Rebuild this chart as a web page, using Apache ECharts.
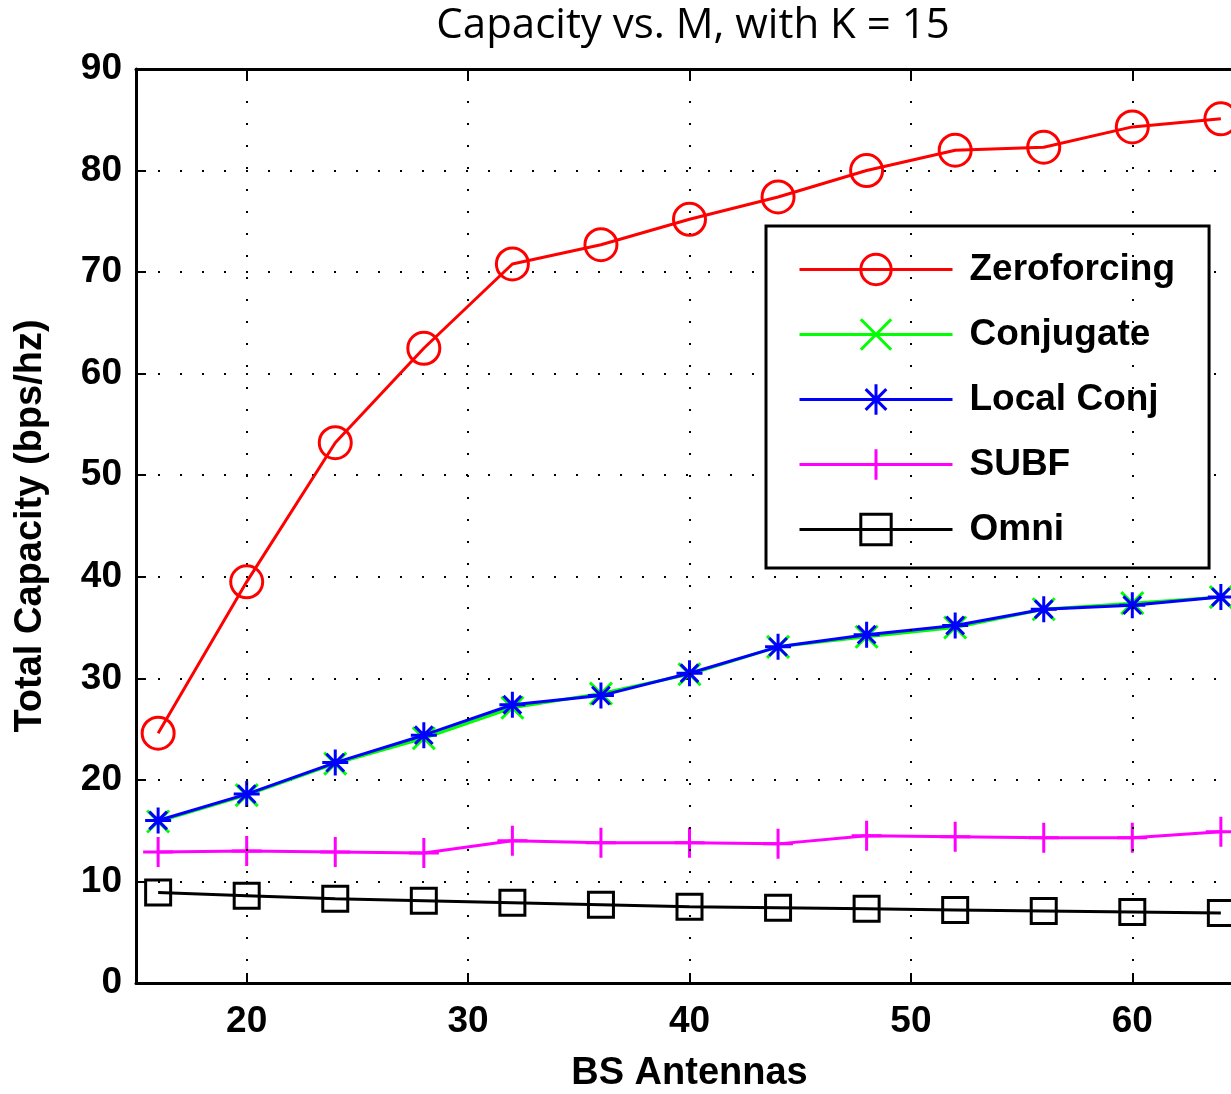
<!DOCTYPE html>
<html>
<head>
<meta charset="utf-8">
<script src="https://cdn.jsdelivr.net/npm/echarts@6/dist/echarts.min.js"></script>
<style>
html,body{margin:0;padding:0;background:#fff;}
#chart{width:1231px;height:1094px;}
</style>
</head>
<body>
<div id="chart"></div>
<script>
const antennas = [16, 20, 24, 28, 32, 36, 40, 44, 48, 52, 56, 60, 64];
const zeroforcing = [24.6, 39.5, 53.2, 62.5, 70.8, 72.7, 75.2, 77.4, 80.0, 82.0, 82.3, 84.3, 85.1];
const conjugate   = [15.9, 18.5, 21.6, 24.1, 27.1, 28.5, 30.4, 33.1, 34.1, 35.0, 36.8, 37.4, 38.0];
const localConj   = [16.0, 18.6, 21.7, 24.4, 27.4, 28.3, 30.5, 33.1, 34.3, 35.2, 36.8, 37.2, 38.0];
const subf        = [12.9, 13.0, 12.9, 12.8, 14.0, 13.8, 13.8, 13.7, 14.5, 14.4, 14.3, 14.3, 14.9];
const omni        = [8.9, 8.6, 8.3, 8.1, 7.9, 7.7, 7.5, 7.4, 7.3, 7.2, 7.1, 7.0, 6.9];
const xTicks = [20, 30, 40, 50, 60];
const yTicks = [0, 10, 20, 30, 40, 50, 60, 70, 80, 90];

const pair = arr => arr.map((v, i) => [antennas[i], v]);
const FONT = '"Liberation Sans", Arial, sans-serif';

const X_PATH = 'path://M0,0L10,10M10,0L0,10';
const STAR_PATH = 'path://M5,0L5,10M0,5L10,5M1.6,1.6L8.4,8.4M8.4,1.6L1.6,8.4';
const PLUS_PATH = 'path://M5,0L5,10M0,5L10,5';

function mk(name, data, color, symbol, size, z) {
  return {
    name, type: 'line', data: pair(data), z,
    symbol, symbolSize: size,
    lineStyle: { color, width: 3 },
    itemStyle: { color: 'rgba(0,0,0,0)', borderColor: color, borderWidth: 3 },
    emphasis: { disabled: true },
    animation: false
  };
}

const series = [
  mk('Zeroforcing', zeroforcing, '#ff0000', 'circle', 32, 5),
  mk('Conjugate', conjugate, '#00ff00', X_PATH, 22, 3),
  mk('Local Conj', localConj, '#0000ff', STAR_PATH, 26, 4),
  mk('SUBF', subf, '#ff00ff', PLUS_PATH, 30, 3),
  mk('Omni', omni, '#000000', 'rect', 25, 3)
];
series[4].markLine = {
  silent: true, symbol: 'none', label: { show: false },
  lineStyle: { color: '#000', type: [2, 20], width: 2 },
  data: xTicks.map(v => ({ xAxis: v })),
  animation: false
};

const chart = echarts.init(document.getElementById('chart'));
chart.setOption({
  backgroundColor: '#fff',
  animation: false,
  title: {
    text: 'Capacity vs. M, with K = 15',
    left: 688, top: 0, textAlign: 'center',
    textStyle: { fontFamily: '"Open Sans", sans-serif', fontSize: 42, fontWeight: 'normal', color: '#000' }
  },
  grid: { left: 136, top: 69, width: 1107, height: 914, containLabel: false, outerBoundsMode: 'none' },
  legend: {
    left: 766, top: 226, orient: 'vertical',
    data: ['Zeroforcing', 'Conjugate', 'Local Conj', 'SUBF', 'Omni'],
    itemWidth: 153, itemHeight: 38, itemGap: 28,
    padding: [25, 34, 20, 32],
    backgroundColor: '#fff', borderColor: '#000', borderWidth: 3,
    lineStyle: { width: 3 },
    itemStyle: { borderWidth: 3 },
    textStyle: { fontFamily: FONT, fontSize: 37, fontWeight: 'bold', color: '#000', padding: [0, 0, 0, 12] },
    selectedMode: false
  },
  xAxis: [{
    type: 'value', min: 15, max: 65, interval: 5,
    name: 'BS Antennas', nameLocation: 'middle', nameGap: 72,
    nameTextStyle: { fontFamily: FONT, fontSize: 38, fontWeight: 'bold', color: '#000' },
    axisLine: { show: true, onZero: false, lineStyle: { color: '#000', width: 3 } },
    axisTick: { show: true, inside: true, length: 10, lineStyle: { color: '#000', width: 2 }, customValues: xTicks },
    axisLabel: { fontFamily: FONT, fontSize: 37, fontWeight: 'bold', color: '#000', margin: 20, customValues: xTicks },
    splitLine: { show: false }
  }, {
    type: 'value', min: 15, max: 65, interval: 5, position: 'top',
    axisLine: { show: true, onZero: false, lineStyle: { color: '#000', width: 3 } },
    axisTick: { show: true, inside: true, length: 10, lineStyle: { color: '#000', width: 2 }, customValues: xTicks },
    axisLabel: { show: false },
    splitLine: { show: false }
  }],
  yAxis: {
    type: 'value', min: 0, max: 90, interval: 10,
    name: 'Total Capacity (bps/hz)', nameLocation: 'middle', nameGap: 86,
    nameTextStyle: { fontFamily: FONT, fontSize: 38, fontWeight: 'bold', color: '#000' },
    axisLine: { show: true, lineStyle: { color: '#000', width: 3 } },
    axisTick: { show: true, inside: true, length: 10, lineStyle: { color: '#000', width: 2 } },
    axisLabel: { fontFamily: FONT, fontSize: 37, fontWeight: 'bold', color: '#000', margin: 14 },
    splitLine: { show: true, lineStyle: { color: '#000', type: [2, 20], width: 2 } }
  },
  series
});
</script>
</body>
</html>
